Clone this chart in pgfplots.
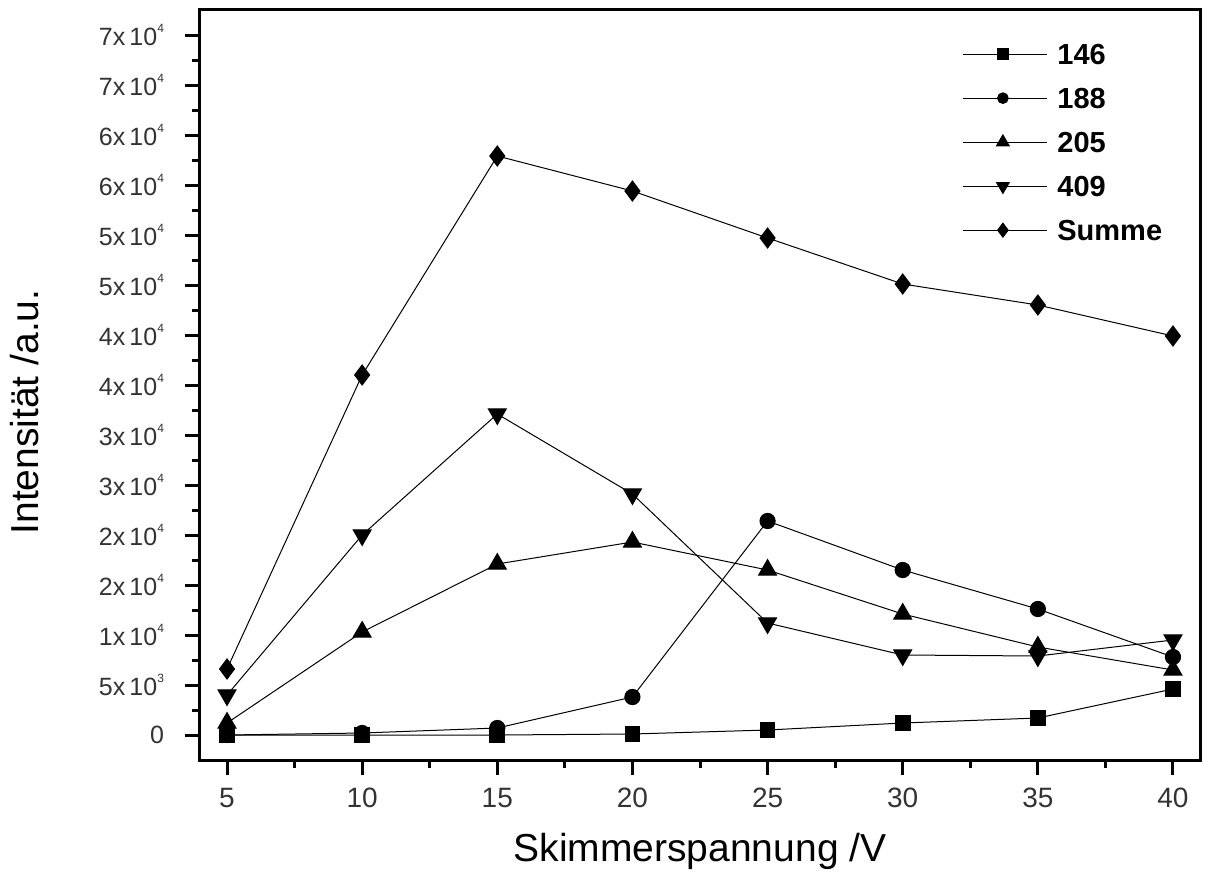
\documentclass[border=0pt]{standalone}
\usepackage{fontspec}
\setmainfont{Liberation Sans}
\usepackage{pgfplots}
\pgfplotsset{compat=1.18}

% mantissa x 10^exponent, with a small raised exponent
\newcommand\sci[2]{#1x\,10\raisebox{1.0ex}{\fontsize{6}{6}\selectfont #2}}

\begin{document}
\begin{tikzpicture}
\path[use as bounding box] (-100pt,-57.5pt) rectangle (504.5pt,380pt);
\begin{axis}[
  at={(0,0)}, anchor=south west,
  scale only axis, width=500pt, height=375pt,
  xmin=4, xmax=41, ymin=-2500, ymax=72500,
  axis line style={line width=1.5pt},
  tick align=outside, xtick pos=bottom, ytick pos=left,
  major tick length=7.5pt, minor tick length=4pt,
  every tick/.style={black, line width=1.5pt},
  scaled y ticks=false, scaled x ticks=false,
  xtick={5,10,...,40}, minor x tick num=1,
  ytick={0,5000,...,70000}, minor y tick num=1,
  yticklabels={0,\sci{5}{3},\sci{1}{4},\sci{2}{4},\sci{2}{4},\sci{3}{4},\sci{3}{4},
               \sci{4}{4},\sci{4}{4},\sci{5}{4},\sci{5}{4},\sci{6}{4},\sci{6}{4},
               \sci{7}{4},\sci{7}{4}},
  /pgf/number format/assume math mode=true,
  xticklabel style={font=\fontsize{14}{14}\selectfont, text=black!80, yshift=-3pt},
  yticklabel style={font=\fontsize{12.5}{12.5}\selectfont, text=black!80, xshift=-7pt},
  xlabel={Skimmerspannung /V},
  ylabel={Intensität /a.u.},
  label style={font=\fontsize{19.5}{19.5}\selectfont},
  xlabel style={at={(axis description cs:0.5,0)}, anchor=center, yshift=-45.5pt},
  ylabel style={at={(axis description cs:0,0.464)}, anchor=center, yshift=87.5pt},
  every axis plot/.append style={black, line width=0.5pt},
  legend image code/.code={\draw[mark repeat=2,mark phase=2,#1,
      every mark/.append style={scale=0.7}]
      plot coordinates {(0pt,0pt)(20pt,0pt)(42pt,0pt)};},
  legend style={at={(axis description cs:0.762,0.955)}, anchor=north west,
     draw=none, fill=none, inner sep=0pt, row sep=12pt, column sep=5pt,
     font=\bfseries\fontsize{14.5}{14.5}\selectfont,
     nodes={inner sep=0pt, text height=10pt, text depth=0pt}},
  legend cell align=left,
]
\addplot[mark=square*, mark size=3.7pt] coordinates {
  (5,0)(10,0)(15,0)(20,100)(25,500)(30,1200)(35,1700)(40,4600)};
\addlegendentry{146}
\addplot[mark=*, mark size=3.8pt] coordinates {
  (5,0)(10,200)(15,700)(20,3800)(25,21400)(30,16500)(35,12600)(40,7800)};
\addlegendentry{188}
\addplot[mark=triangle*, mark size=5.2pt] coordinates {
  (5,1200)(10,10300)(15,17100)(20,19300)(25,16500)(30,12100)(35,8800)(40,6500)};
\addlegendentry{205}
\addplot[mark=triangle*, mark size=5.2pt, mark options={rotate=180}] coordinates {
  (5,4000)(10,20000)(15,32100)(20,24100)(25,11200)(30,8000)(35,7900)(40,9500)};
\addlegendentry{409}
\addplot[mark=diamond*, mark size=5pt] coordinates {
  (5,6600)(10,36000)(15,57900)(20,54400)(25,49700)(30,45100)(35,43000)(40,39900)};
\addlegendentry{Summe}
\end{axis}
\end{tikzpicture}
\end{document}
